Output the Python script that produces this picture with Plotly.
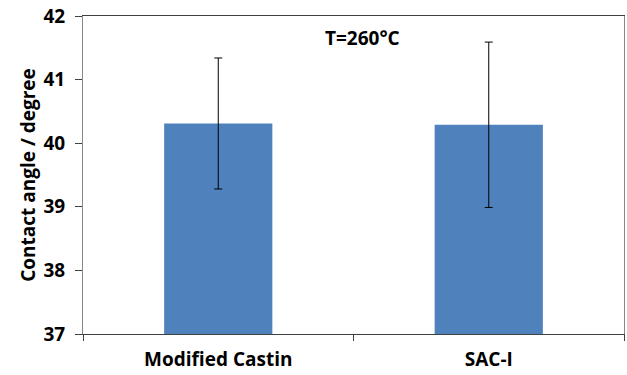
import plotly.graph_objects as go

categories = ["Modified Castin", "SAC-I"]
contact_angle = [40.31, 40.29]
error = [1.03, 1.30]
y_ticks = [37, 38, 39, 40, 41, 42]

FONT = "Open Sans"
FS = 19

fig = go.Figure()
fig.add_trace(go.Bar(
    x=categories,
    y=contact_angle,
    marker=dict(color="#4F81BD", line=dict(width=0)),
    error_y=dict(type="data", array=error, visible=True, color="#000000",
                 thickness=1, width=4),
))

fig.update_layout(
    width=627, height=375,
    margin=dict(l=83, r=3, t=16, b=41),
    paper_bgcolor="white", plot_bgcolor="white",
    bargap=0.6,
    showlegend=False,
    font=dict(family=FONT, size=FS, color="#000000"),
    xaxis=dict(
        type="category", range=[-0.5, 1.5],
        showline=True, linecolor="#404040", linewidth=1, mirror=True,
        ticks="outside", ticklen=6, tickcolor="#404040", tickson="boundaries",
        tickfont=dict(family=FONT, size=FS, color="#000000", weight="bold"),
        ticklabelstandoff=8,
        showgrid=False, zeroline=False,
    ),
    yaxis=dict(
        range=[37, 42], tickvals=y_ticks, ticktext=[str(v) for v in y_ticks],
        showline=True, linecolor="#868686", linewidth=1, mirror=True,
        ticks="outside", ticklen=7, tickcolor="#404040",
        tickfont=dict(family=FONT, size=FS, color="#000000", weight="bold"),
        ticklabelstandoff=6,
        showgrid=False, zeroline=False,
        title=dict(text="Contact angle / degree",
                   font=dict(family=FONT, size=FS, color="#000000", weight="bold"),
                   standoff=2),
    ),
    annotations=[dict(
        text="T=260°C", xref="paper", yref="paper", x=0.516, y=0.931,
        showarrow=False, xanchor="center", yanchor="middle",
        font=dict(family=FONT, size=FS, color="#000000", weight="bold"),
    )],
)

fig.write_html("out.html")
